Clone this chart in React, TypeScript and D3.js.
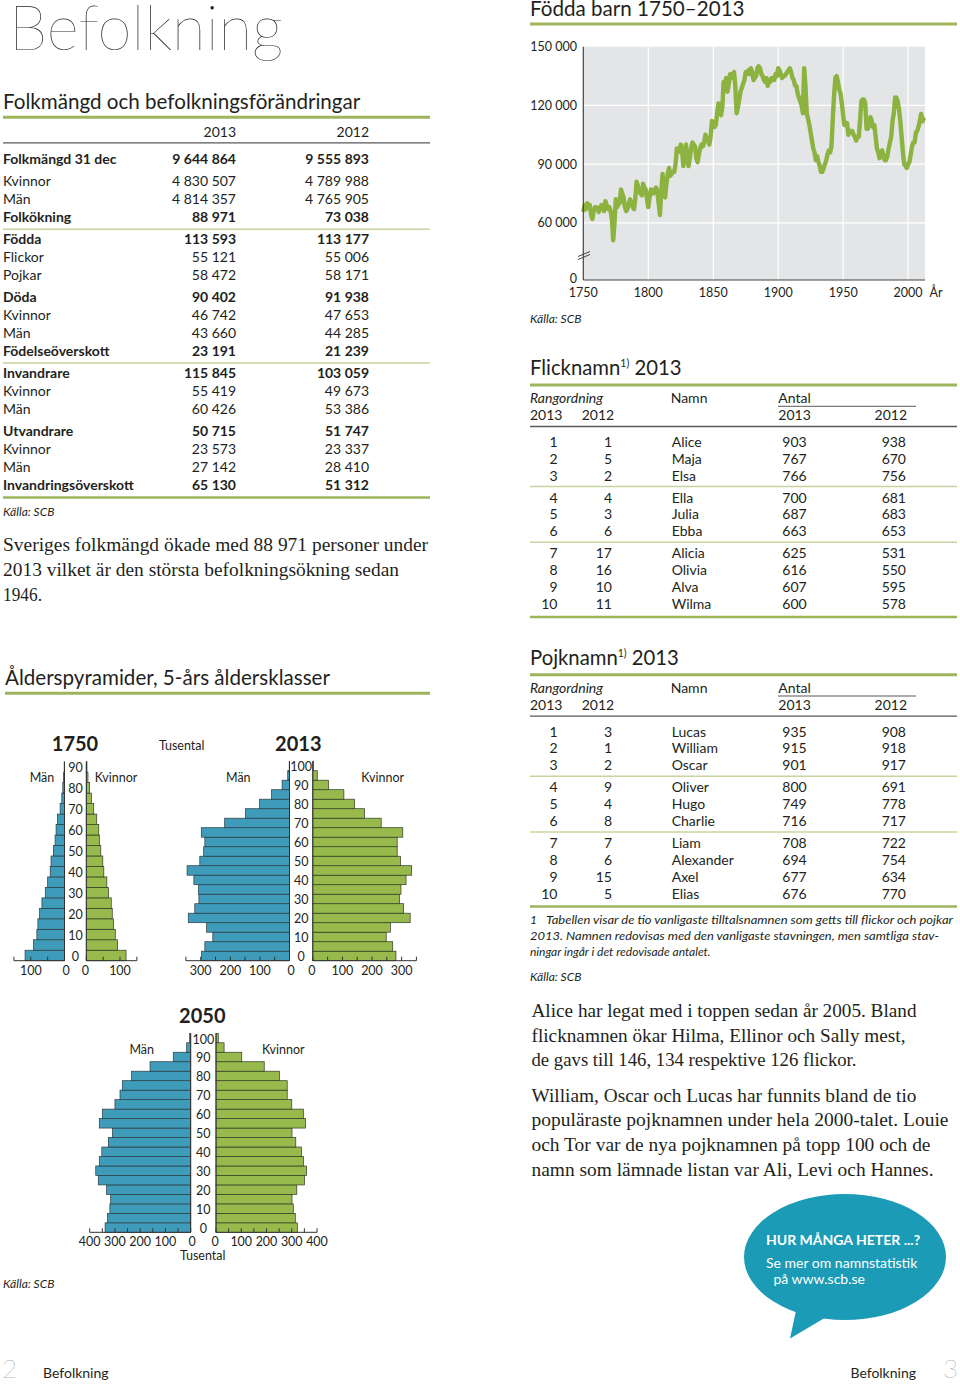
import React from 'react';
import * as d3 from 'd3';

const SANS = "Lato, 'Noto Sans', sans-serif";
const SERIF = "'Liberation Serif', 'DejaVu Serif', serif";
const INK = '#231f20';
const RULE_GREEN = '#9fb55c';
const RULE_LIGHT = '#c8d49e';
const RULE_DARK = '#58595b';
const LINE_GREEN = '#8cb23f';
const BAR_BLUE = '#3e9bb9';
const BAR_GREEN = '#98b94b';
const BUBBLE = '#1b9bb6';

// ---------- Folkmängd table ----------
const popLabels = ['Folkmängd 31 dec', 'Kvinnor', 'Män', 'Folkökning', 'Födda', 'Flickor', 'Pojkar', 'Döda', 'Kvinnor', 'Män', 'Födelseöverskott', 'Invandrare', 'Kvinnor', 'Män', 'Utvandrare', 'Kvinnor', 'Män', 'Invandringsöverskott'];
const pop2013 = ['9 644 864', '4 830 507', '4 814 357', '88 971', '113 593', '55 121', '58 472', '90 402', '46 742', '43 660', '23 191', '115 845', '55 419', '60 426', '50 715', '23 573', '27 142', '65 130'];
const pop2012 = ['9 555 893', '4 789 988', '4 765 905', '73 038', '113 177', '55 006', '58 171', '91 938', '47 653', '44 285', '21 239', '103 059', '49 673', '53 386', '51 747', '23 337', '28 410', '51 312'];
const popBoldRows = [0, 3, 4, 7, 10, 11, 14, 17];
const popGapBefore = [1, 4, 7, 11, 14];
const popRuleAfter = [3, 10];
const popYears = ['2013', '2012'];

// ---------- Births 1750–2013 (thousands) ----------
const birthStartYear = 1750;
const births = [
  65.5, 69, 67, 70, 68.5, 69, 64, 62, 66, 68,
  68, 67, 65.5, 68, 69, 68, 66, 71, 69, 67,
  68, 66, 62, 51, 60, 72, 68, 69.5, 70, 77,
  75, 73, 68, 66, 67, 70, 72, 70, 68, 67,
  72, 81, 79, 76, 75, 74, 80, 78, 77, 72,
  68, 73, 77, 76, 75, 77, 78, 76, 70, 64,
  76, 85, 74, 73, 80, 85, 88, 84, 85, 86,
  86, 90, 98, 96, 97, 100, 97, 89, 95, 100,
  94, 89, 93, 98, 101, 100, 99, 93, 91, 95,
  98, 100, 99, 101, 105, 103, 102, 100, 104, 112,
  111, 109, 110, 116, 121, 117, 115, 119, 132, 131,
  134, 127, 131, 136, 134, 136, 137, 130, 116, 119,
  123, 127, 129, 131, 133, 137, 136, 138, 136, 139,
  137, 133, 134, 135, 139, 140, 139, 136, 135, 133,
  132, 134, 130, 133, 132, 134, 134, 133, 136, 135,
  139, 138, 136, 134, 135, 135, 136, 137, 138, 139,
  137, 134, 133, 130, 130, 126, 124, 122, 120, 116,
  139, 130, 116, 113, 110, 106, 102, 98, 96, 92,
  94, 91, 89, 86, 86, 88, 90, 92, 95, 97,
  96, 99, 113, 125, 134, 135, 132, 128, 126, 121,
  115, 110, 110, 111, 105, 107, 107, 107, 105, 104,
  102, 104, 104, 112, 122, 123, 123, 121, 108, 108,
  110, 114, 112, 109, 110, 104, 98, 96, 93, 96,
  97, 94, 92, 92, 94, 98, 101, 104, 112, 116,
  124, 124, 122, 118, 112, 104, 96, 90, 89, 88,
  90, 91, 95, 99, 101, 101, 106, 107, 109, 112,
  115.6, 111.8, 113.2, 113.6,
];
const birthYTicks = [0, 60, 90, 120, 150];
const birthYTickLabels = ['0', '60 000', '90 000', '120 000', '150 000'];
const birthXTicks = [1750, 1800, 1850, 1900, 1950, 2000];

// ---------- Names ----------
const girlRank2012 = [1, 5, 2, 4, 3, 6, 17, 16, 10, 11];
const girlNames = ['Alice', 'Maja', 'Elsa', 'Ella', 'Julia', 'Ebba', 'Alicia', 'Olivia', 'Alva', 'Wilma'];
const girlCount2013 = [903, 767, 766, 700, 687, 663, 625, 616, 607, 600];
const girlCount2012 = [938, 670, 756, 681, 683, 653, 531, 550, 595, 578];
const boyRank2012 = [3, 1, 2, 9, 4, 8, 7, 6, 15, 5];
const boyNames = ['Lucas', 'William', 'Oscar', 'Oliver', 'Hugo', 'Charlie', 'Liam', 'Alexander', 'Axel', 'Elias'];
const boyCount2013 = [935, 915, 901, 800, 749, 716, 708, 694, 677, 676];
const boyCount2012 = [908, 918, 917, 691, 778, 717, 722, 754, 634, 770];

// ---------- Pyramids (thousands, age groups 0-4, 5-9, ...) ----------
const male1750 = [117, 92, 82, 79, 74, 67, 57, 50, 42.5, 40, 33, 28, 25, 21, 13, 8, 5, 3, 1];
const female1750 = [118, 93, 86, 81, 77, 74, 66, 61, 52, 49, 43, 39, 37, 31, 22, 15, 10, 5, 2];
const male2013 = [297, 286, 259, 280, 342, 320, 306, 308, 323, 346, 303, 290, 286, 298, 219, 149, 101, 61, 25, 6, 1];
const female2013 = [281, 270, 248, 262, 329, 307, 293, 298, 315, 334, 296, 285, 285, 304, 231, 175, 141, 105, 53, 15, 2];
const male2050 = [339, 330, 320, 317, 333, 366, 376, 362, 352, 326, 310, 362, 350, 300, 280, 271, 234, 161, 69, 16, 4];
const female2050 = [322, 314, 306, 301, 320, 350, 359, 346, 339, 316, 301, 354, 346, 300, 282, 282, 251, 191, 102, 32, 9];

// ---------- Texts ----------
const leftBody = [
  'Sveriges folkmängd ökade med 88 971 personer under',
  '2013 vilket är den största befolkningsökning sedan',
  '1946.',
];
const rightBody1 = [
  'Alice har legat med i toppen sedan år 2005. Bland',
  'flicknamnen ökar Hilma, Ellinor och Sally mest,',
  'de gavs till 146, 134 respektive 126 flickor.',
];
const rightBody2 = [
  'William, Oscar och Lucas har funnits bland de tio',
  'populäraste pojknamnen under hela 2000-talet. Louie',
  'och Tor var de nya pojknamnen på topp 100 och de',
  'namn som lämnade listan var Ali, Levi och Hannes.',
];
const footnote = [
  'Tabellen visar de tio vanligaste tilltalsnamnen som getts till flickor och pojkar',
  '2013. Namnen redovisas med den vanligaste stavningen, men samtliga stav-',
  'ningar ingår i det redovisade antalet.',
];

function Rule({ x1, x2, y, color, w }: any) {
  return <line x1={x1} x2={x2} y1={y} y2={y} stroke={color} strokeWidth={w} />;
}

function PopTable() {
  const ys: number[] = [];
  let y = 159;
  popLabels.forEach((_, i) => {
    if (i > 0) y += 17.8 + (popGapBefore.includes(i) ? 4.6 : 0);
    ys.push(y);
  });
  const fs = 14;
  return (
    <g fontFamily={SANS} fill={INK} fontSize={fs}>
      <text x={3} y={108.5} fontSize={20.6}>Folkmängd och befolkningsförändringar</text>
      <Rule x1={3} x2={430} y={117.3} color={RULE_GREEN} w={3} />
      <text x={236} y={136.5} textAnchor="end">{popYears[0]}</text>
      <text x={369} y={136.5} textAnchor="end">{popYears[1]}</text>
      <Rule x1={3} x2={430} y={142.8} color={RULE_DARK} w={1.3} />
      {popLabels.map((l, i) => {
        const b = popBoldRows.includes(i);
        return (
          <g key={i} fontWeight={b ? 700 : 400}>
            <text x={3} y={ys[i] + 5}>{l}</text>
            <text x={236} y={ys[i] + 5} textAnchor="end">{pop2013[i]}</text>
            <text x={369} y={ys[i] + 5} textAnchor="end">{pop2012[i]}</text>
          </g>
        );
      })}
      {popRuleAfter.map((i) => (
        <Rule key={i} x1={3} x2={430} y={ys[i] + 12.3} color={RULE_LIGHT} w={1.5} />
      ))}
      <Rule x1={3} x2={430} y={ys[ys.length - 1] + 12.8} color={RULE_GREEN} w={2.5} />
      <text x={3} y={ys[ys.length - 1] + 31} fontSize={12} fontStyle="italic">Källa: SCB</text>
    </g>
  );
}

function BirthChart() {
  const x = d3.scaleLinear().domain([1750, 2013]).range([583.3, 925]);
  const y = d3.scaleLinear().domain([0, 42, 150]).range([278, 258, 46.7]);
  const line = d3.line<number>().x((_, i) => x(birthStartYear + i)).y((d) => y(d));
  const top = y(150);
  const bottom = 280;
  return (
    <g fontFamily={SANS} fill={INK}>
      <text x={530} y={16} fontSize={20.6}>Födda barn 1750–2013</text>
      <Rule x1={530} x2={957} y={24} color={RULE_GREEN} w={3} />
      <rect x={x(1750)} y={top} width={x(2013) - x(1750)} height={bottom - top} fill="#e4e5e7" />
      {birthXTicks.slice(1).map((t) => (
        <line key={t} x1={x(t)} x2={x(t)} y1={top} y2={bottom} stroke="#fff" strokeWidth={1.2} />
      ))}
      {birthYTicks.slice(1, 4).map((t) => (
        <line key={t} x1={x(1750)} x2={x(2013)} y1={y(t)} y2={y(t)} stroke="#fff" strokeWidth={1.2} />
      ))}
      <path d={line(births) || ''} fill="none" stroke={LINE_GREEN} strokeWidth={4.4} strokeLinejoin="round" />
      <line x1={x(1750)} x2={x(1750)} y1={top} y2={bottom} stroke="#444" strokeWidth={1.2} />
      <line x1={x(1750)} x2={x(2013)} y1={bottom} y2={bottom} stroke="#444" strokeWidth={1.2} />
      <line x1={578} x2={590} y1={256.5} y2={251.5} stroke="#444" strokeWidth={1} />
      <line x1={578} x2={590} y1={259.5} y2={254.5} stroke="#444" strokeWidth={1} />
      {birthYTicks.map((t, i) => (
        <text key={t} x={577} y={y(t) + 4.5} fontSize={12.5} textAnchor="end">{birthYTickLabels[i]}</text>
      ))}
      {birthXTicks.map((t) => (
        <text key={t} x={x(t)} y={296.5} fontSize={12.5} textAnchor="middle">{t}</text>
      ))}
      <text x={936} y={296.5} fontSize={12.5} textAnchor="middle">År</text>
      <text x={530} y={323} fontSize={12} fontStyle="italic">Källa: SCB</text>
    </g>
  );
}

function NameTable({ title, top, rank2012, names, c2013, c2012 }: any) {
  const rowStart = top + 73.5;
  const ys: number[] = [];
  let y = rowStart;
  names.forEach((_: string, i: number) => {
    if (i > 0) y += 16.9 + (i === 3 || i === 6 ? 5 : 0);
    ys.push(y);
  });
  return (
    <g fontFamily={SANS} fill={INK} fontSize={14}>
      <text x={530} y={top + 7} fontSize={20.3}>
        {title}
        <tspan fontSize={10.5} dy={-8}>1)</tspan>
        <tspan dy={8}> 2013</tspan>
      </text>
      <Rule x1={530} x2={957} y={top + 16.7} color={RULE_GREEN} w={3} />
      <text x={530} y={top + 34.5} fontStyle="italic">Rangordning</text>
      <text x={670.7} y={top + 34.5}>Namn</text>
      <text x={778.3} y={top + 34.5}>Antal</text>
      <line x1={778} x2={916} y1={top + 38} y2={top + 38} stroke={RULE_DARK} strokeWidth={1} />
      <text x={530} y={top + 51.5}>2013</text>
      <text x={581.7} y={top + 51.5}>2012</text>
      <text x={778.3} y={top + 51.5}>2013</text>
      <text x={907} y={top + 51.5} textAnchor="end">2012</text>
      <Rule x1={530} x2={957} y={top + 58.2} color={RULE_DARK} w={1.3} />
      {names.map((n: string, i: number) => (
        <g key={n}>
          <text x={557.5} y={ys[i] + 5} textAnchor="end">{i + 1}</text>
          <text x={612} y={ys[i] + 5} textAnchor="end">{rank2012[i]}</text>
          <text x={671.7} y={ys[i] + 5}>{n}</text>
          <text x={806.7} y={ys[i] + 5} textAnchor="end">{c2013[i]}</text>
          <text x={906} y={ys[i] + 5} textAnchor="end">{c2012[i]}</text>
        </g>
      ))}
      <Rule x1={530} x2={957} y={(ys[2] + ys[3]) / 2} color={RULE_LIGHT} w={1.5} />
      <Rule x1={530} x2={957} y={(ys[5] + ys[6]) / 2} color={RULE_LIGHT} w={1.5} />
      <Rule x1={530} x2={957} y={ys[9] + 13} color={RULE_GREEN} w={2.5} />
    </g>
  );
}

function Pyramid({ male, female, leftZero, rightZero, unitPx, axisMax, top, bottom }: any) {
  const groups = d3.range(male.length).map((i) => i * 5);
  const yb = d3.scaleBand<number>().domain(groups).range([bottom, top]);
  const bw = yb.bandwidth();
  const xm = d3.scaleLinear().domain([0, axisMax]).range([leftZero, leftZero - axisMax * unitPx]);
  const xf = d3.scaleLinear().domain([0, axisMax]).range([rightZero, rightZero + axisMax * unitPx]);
  const minor = d3.range(0, axisMax + 1, 50);
  const major = d3.range(0, axisMax + 1, 100);
  const cx = (leftZero + rightZero) / 2;
  return (
    <g fontFamily={SANS} fill={INK} fontSize={12.5}>
      {male.map((v: number, i: number) => (
        <rect key={'m' + i} x={xm(v)} y={yb(groups[i])} width={leftZero - xm(v)} height={bw}
          fill={BAR_BLUE} stroke="#2a3b40" strokeWidth={0.7} />
      ))}
      {female.map((v: number, i: number) => (
        <rect key={'f' + i} x={rightZero} y={yb(groups[i])} width={xf(v) - rightZero} height={bw}
          fill={BAR_GREEN} stroke="#2f3a25" strokeWidth={0.7} />
      ))}
      <line x1={leftZero} x2={leftZero} y1={top} y2={bottom} stroke="#333" strokeWidth={1} />
      <line x1={rightZero} x2={rightZero} y1={top} y2={bottom} stroke="#333" strokeWidth={1} />
      <line x1={xm(axisMax)} x2={leftZero} y1={bottom} y2={bottom} stroke="#333" strokeWidth={1} />
      <line x1={rightZero} x2={xf(axisMax)} y1={bottom} y2={bottom} stroke="#333" strokeWidth={1} />
      {minor.map((t) => (
        <g key={t}>
          <line x1={xm(t)} x2={xm(t)} y1={bottom - 4} y2={bottom} stroke="#333" strokeWidth={1} />
          <line x1={xf(t)} x2={xf(t)} y1={bottom - 4} y2={bottom} stroke="#333" strokeWidth={1} />
        </g>
      ))}
      {major.map((t) => (
        <g key={'l' + t}>
          <text x={xm(t) + (t === 0 ? 1.5 : 0)} y={bottom + 14} textAnchor="middle">{t}</text>
          <text x={xf(t) - (t === 0 ? 1 : 0)} y={bottom + 14} textAnchor="middle">{t}</text>
        </g>
      ))}
      {groups.filter((g) => g % 10 === 0).map((g) => (
        <text key={'a' + g} x={cx} y={(yb(g) || 0) + bw / 2 + 5.5} textAnchor="middle">{g}</text>
      ))}
    </g>
  );
}

function BodyLines({ lines, x, y0, dy, widths }: any) {
  return (
    <g fontFamily={SERIF} fontSize={18.5} fill={INK}>
      {lines.map((l: string, i: number) => (
        <text key={i} x={x} y={y0 + i * dy} textLength={widths[i]} lengthAdjust="spacingAndGlyphs">{l}</text>
      ))}
    </g>
  );
}

export default function App() {
  return (
    <svg width={960} height={1384} viewBox="0 0 960 1384"
      style={{ position: 'absolute', left: 0, top: 0, background: '#fff' }}>
      <rect width={960} height={1384} fill="#fff" />
      <text x={9} y={50} fontFamily={SANS} fontWeight={100} fontSize={61} fill={INK}
        textLength={274} lengthAdjust="spacingAndGlyphs">Befolkning</text>

      <PopTable />
      <BodyLines lines={leftBody} x={3} y0={550.5} dy={25} widths={[425, 396, 39]} />

      <BirthChart />
      <NameTable title="Flicknamn" top={368.3} rank2012={girlRank2012} names={girlNames} c2013={girlCount2013} c2012={girlCount2012} />
      <NameTable title="Pojknamn" top={658} rank2012={boyRank2012} names={boyNames} c2013={boyCount2013} c2012={boyCount2012} />

      <g fontFamily={SANS} fill={INK} fontSize={12} fontStyle="italic">
        <text x={530} y={923.5}>1</text>
        <text x={546} y={923.5} textLength={407} lengthAdjust="spacingAndGlyphs">{footnote[0]}</text>
        <text x={530} y={940} textLength={409} lengthAdjust="spacingAndGlyphs">{footnote[1]}</text>
        <text x={530} y={956}>{footnote[2]}</text>
        <text x={530} y={981}>Källa: SCB</text>
      </g>

      <BodyLines lines={rightBody1} x={531.5} y0={1017} dy={24.5} widths={[385, 374, 325]} />
      <BodyLines lines={rightBody2} x={531.5} y0={1101.5} dy={24.7} widths={[385, 417, 399, 402]} />

      {/* Age pyramids */}
      <g fontFamily={SANS} fill={INK}>
        <text x={5} y={685} fontSize={20.6}>Ålderspyramider, 5-års åldersklasser</text>
        <Rule x1={5} x2={430} y={693.3} color={RULE_GREEN} w={3} />
        <text x={75} y={751} fontSize={20} fontWeight={700} textAnchor="middle">1750</text>
        <text x={298.3} y={751} fontSize={20} fontWeight={700} textAnchor="middle">2013</text>
        <text x={181.7} y={749.5} fontSize={12.5} textAnchor="middle">Tusental</text>
        <text x={202.3} y={1022.7} fontSize={20} fontWeight={700} textAnchor="middle">2050</text>
        <text x={42} y={781.5} fontSize={12.5} textAnchor="middle">Män</text>
        <text x={116} y={781.5} fontSize={12.5} textAnchor="middle">Kvinnor</text>
        <text x={238.3} y={782} fontSize={12.5} textAnchor="middle">Män</text>
        <text x={382.7} y={782} fontSize={12.5} textAnchor="middle">Kvinnor</text>
        <text x={141.7} y={1053.5} fontSize={12.5} textAnchor="middle">Män</text>
        <text x={283.3} y={1053.5} fontSize={12.5} textAnchor="middle">Kvinnor</text>
        <text x={202.7} y={1260} fontSize={12.5} textAnchor="middle">Tusental</text>
        <text x={3} y={1288} fontSize={12} fontStyle="italic">Källa: SCB</text>
      </g>
      <Pyramid male={male1750} female={female1750} leftZero={64.5} rightZero={86.3} unitPx={0.337} axisMax={150} top={761.7} bottom={960.7} />
      <Pyramid male={male2013} female={female2013} leftZero={289.5} rightZero={312.8} unitPx={0.296} axisMax={350} top={761.2} bottom={960.7} />
      <Pyramid male={male2050} female={female2050} leftZero={190.7} rightZero={216} unitPx={0.2525} axisMax={400} top={1033.3} bottom={1232.3} />

      {/* Bubble */}
      <path d="M797,1306 L790,1338.5 L828,1316 Z" fill={BUBBLE} />
      <ellipse cx={845} cy={1257} rx={101} ry={63} fill={BUBBLE} />
      <g fontFamily={SANS} fill="#fff" fontSize={14}>
        <text x={766} y={1245} fontWeight={700}>HUR MÅNGA HETER ...?</text>
        <text x={766} y={1267.5}>Se mer om namnstatistik</text>
        <text x={773.5} y={1284}>på www.scb.se</text>
      </g>

      {/* Footer */}
      <g fontFamily={SANS} fill={INK}>
        <text x={2} y={1378} fontSize={26} fontWeight={100} fill="#555">2</text>
        <text x={43} y={1378} fontSize={14}>Befolkning</text>
        <text x={916} y={1378} fontSize={14} textAnchor="end">Befolkning</text>
        <text x={943} y={1378} fontSize={26} fontWeight={100} fill="#555">3</text>
      </g>
    </svg>
  );
}
